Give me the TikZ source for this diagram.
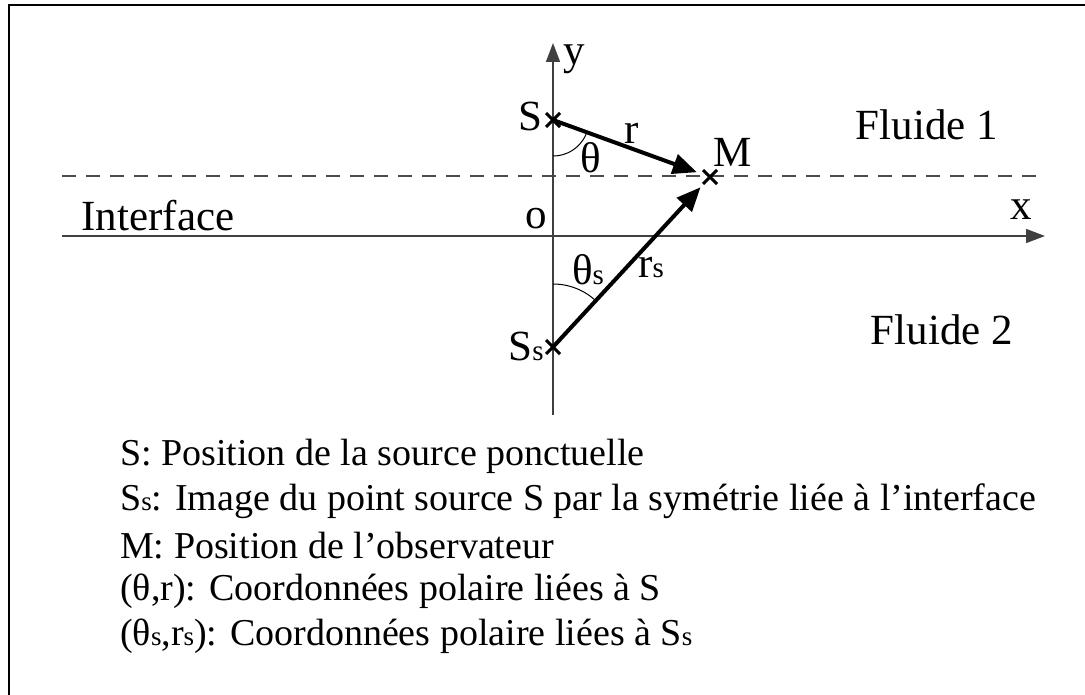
\documentclass[tikz,border=0pt]{standalone}
\usepackage{fontspec}
\setmainfont{Liberation Serif}
\usetikzlibrary{arrows.meta,calc}
\newcommand{\sub}{{\fontsize{29}{32}\selectfont s}}
\newcommand{\lsub}{{\fontsize{27}{30}\selectfont s}}
\tikzset{
  txt/.style={font=\fontsize{43}{48}\selectfont, inner sep=0pt},
  leg/.style={font=\fontsize{38}{44}\selectfont, inner sep=0pt, anchor=west},
  axis/.style={line width=1.6pt, draw=black!75, -{Triangle[length=19pt,width=14pt]}},
  vec/.style={line width=4pt, -{Triangle[length=24pt,width=20pt]}, shorten >=14pt},
  cross/.style={line width=3pt},
  arcline/.style={line width=1pt}
}
\begin{document}
\begin{tikzpicture}[x=1pt,y=-1pt]
\useasboundingbox (0,0) rectangle (1085,695);
% frame
\draw[line width=2pt] (9,695) -- (9,5) -- (1085,5);
% points
\coordinate (O) at (553,236);
\coordinate (S) at (553,120);
\coordinate (M) at (710,177);
\coordinate (Ss) at (553,347);
\coordinate (xs) at (62,236);
\coordinate (xe) at (1045,236);
\coordinate (ys) at (553,415);
\coordinate (ye) at (553,43);
\coordinate (ds) at (62,176);
\coordinate (de) at (1045,176);
% dashed line
\draw[line width=1.4pt, draw=black!70, dash pattern=on 14pt off 10pt] (ds) -- (de);
% axes
\draw[axis] (xs) -- (xe);
\draw[axis] (ys) -- (ye);
% angle arcs
\draw[arcline] plot[domain=90:20, samples=30, smooth] ({553+36*cos(\x)},{120+36*sin(\x)});
\draw[arcline] plot[domain=-90:-47, samples=30, smooth] ({553+63*cos(\x)},{347+63*sin(\x)});
% vectors
\draw[vec] (S) -- (M);
\draw[vec] (Ss) -- (M);
% crosses
\foreach \p in {S,M,Ss}{
  \draw[cross] ($(\p)+(-7,-7)$) -- ($(\p)+(7,7)$);
  \draw[cross] ($(\p)+(-7,7)$) -- ($(\p)+(7,-7)$);
}
% labels
\node[txt] (ly) at (574,59) {y};
\node[txt] (lS) at (530,116) {S};
\node[txt] (lr) at (632,133) {r};
\node[txt] (lth) at (591,158) {θ};
\node[txt] (lM) at (733,152) {M};
\node[txt] (lo) at (536,219) {o};
\node[txt] (lx) at (1021,210) {x};
\node[txt] (lths) at (588,270) {θ\sub};
\node[txt] (lrs) at (651,268) {r\sub};
\node[txt] (lSs) at (526,346) {S\sub};
\node[txt] (lF1) at (927,125) {Fluide 1};
\node[txt] (lF2) at (942,330) {Fluide 2};
\node[txt] (lI) at (158,216) {Interface};
% legend
\node[leg] (l1) at (120,456) {S: Position de la source ponctuelle};
\node[leg] (l2) at (120,501) {S\lsub: Image du point source S par la symétrie liée à l’interface};
\node[leg] (l3) at (120,546) {M: Position de l’observateur};
\node[leg] (l4) at (120,591) {(θ,r): Coordonnées polaire liées à S};
\node[leg] (l5) at (120,636) {(θ\lsub,r\lsub): Coordonnées polaire liées à S\lsub};
\end{tikzpicture}
\end{document}
